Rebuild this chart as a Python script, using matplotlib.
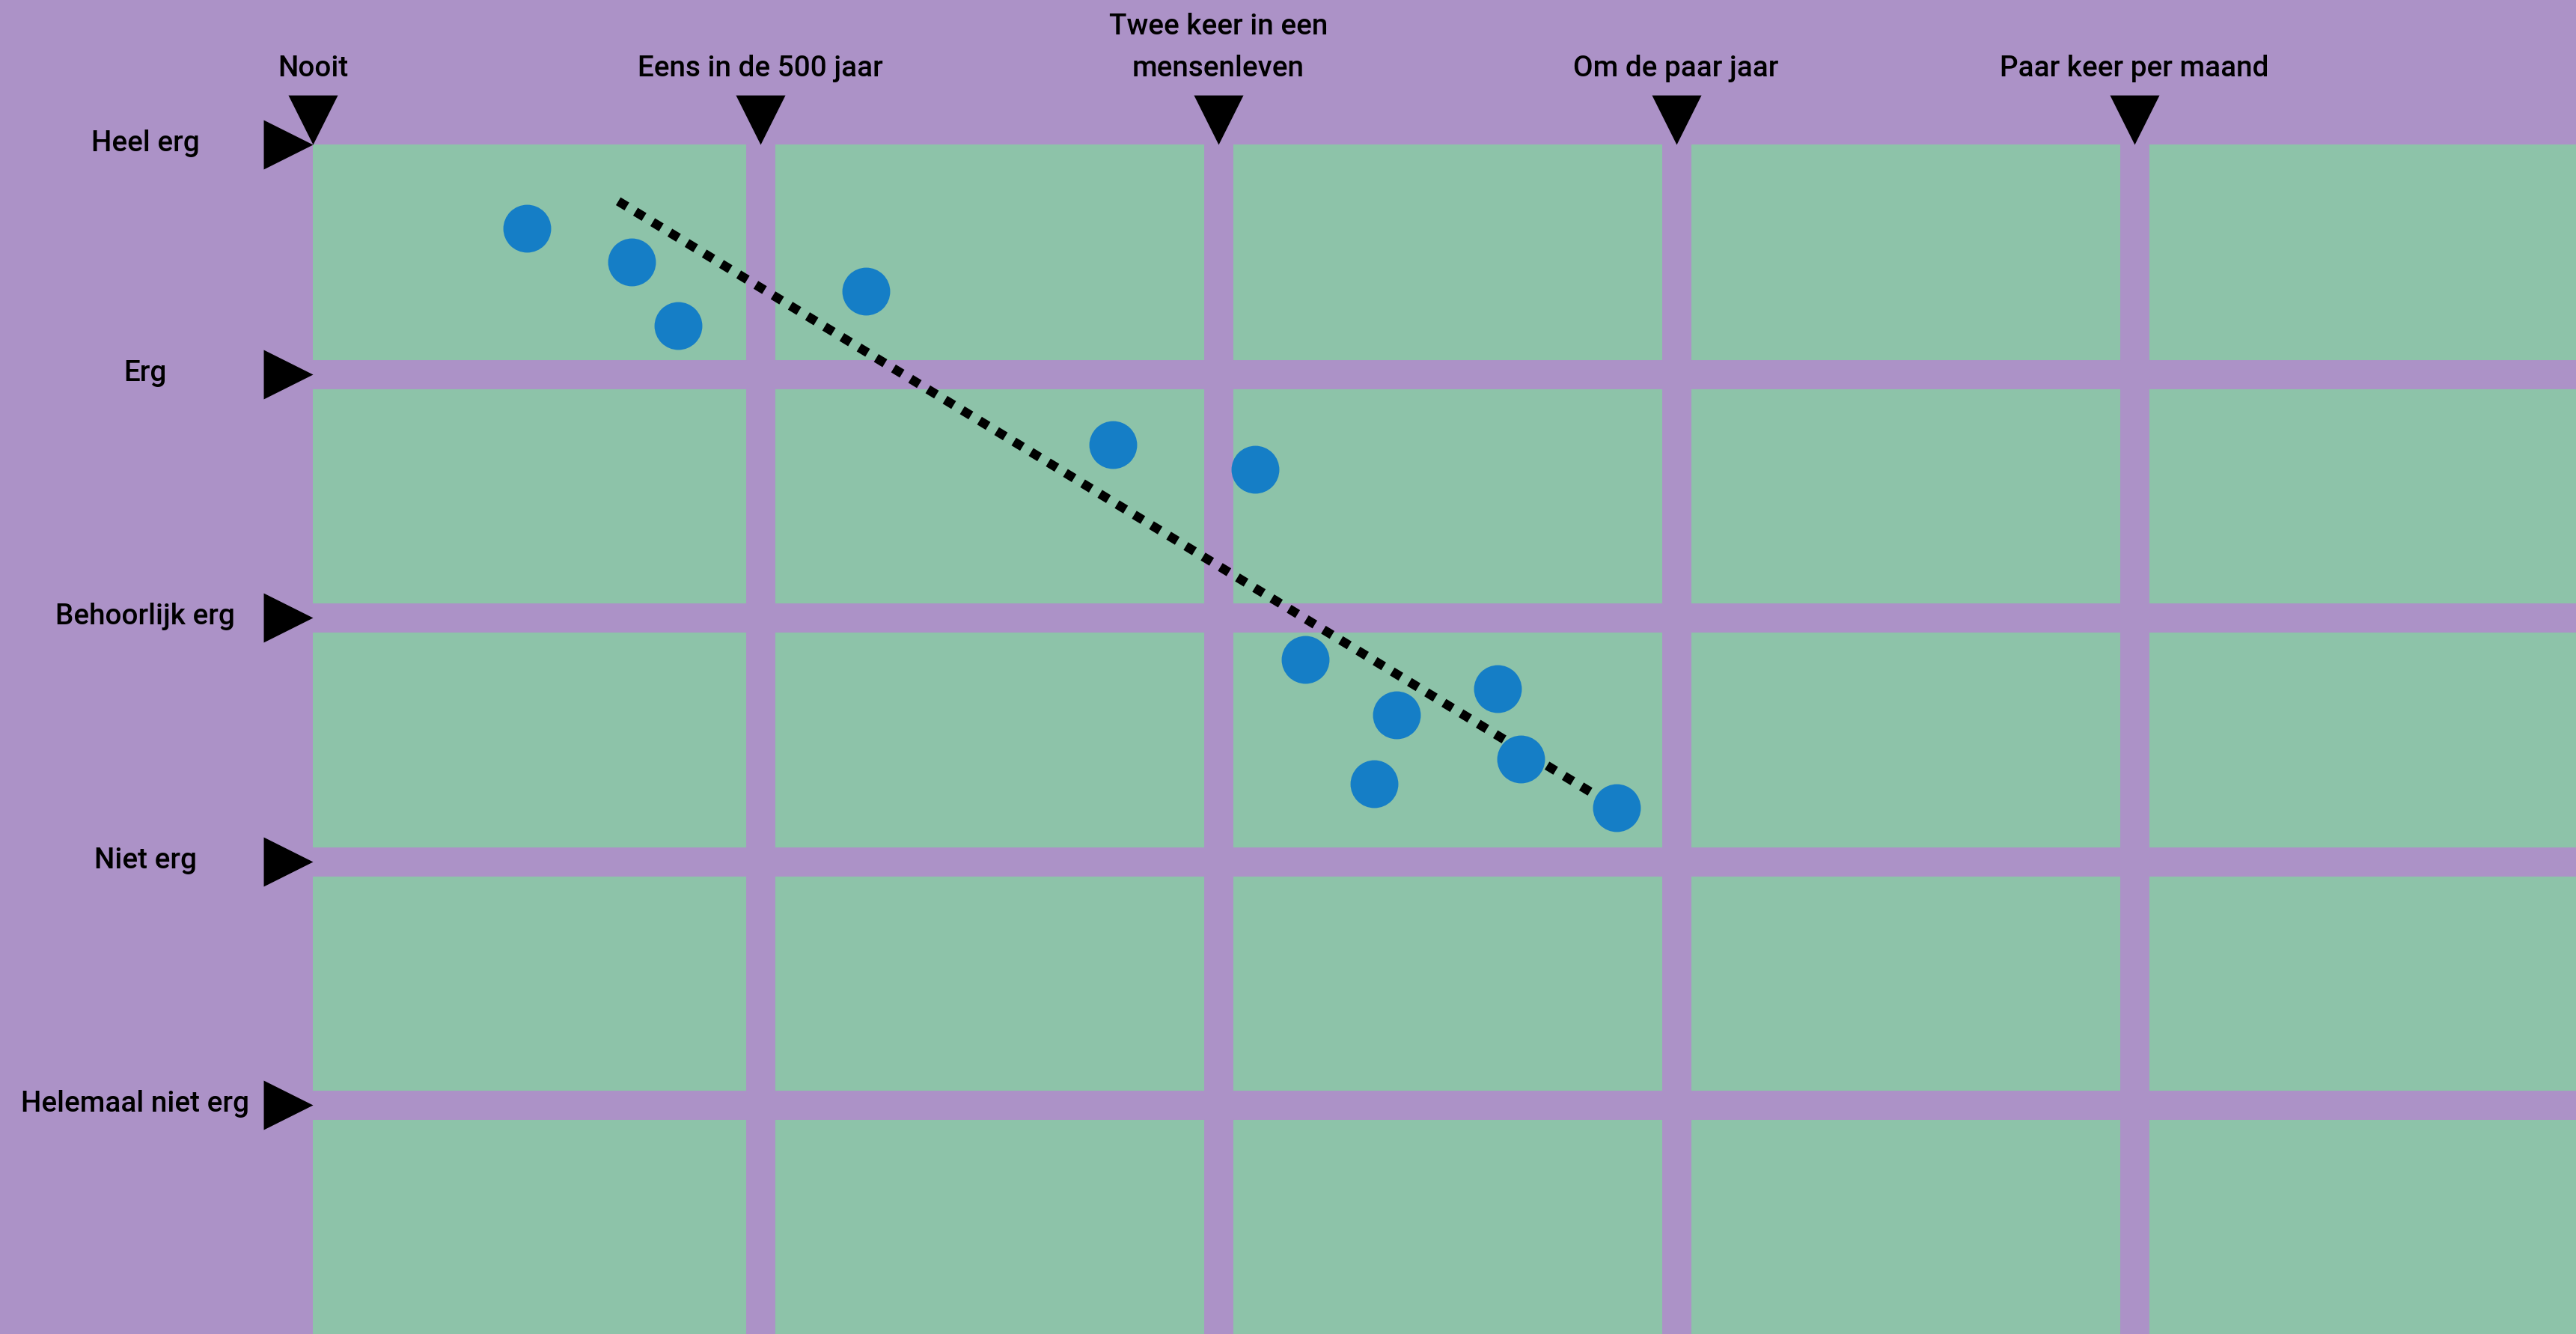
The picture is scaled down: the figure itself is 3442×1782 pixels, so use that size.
import numpy as np
import matplotlib
matplotlib.use("Agg")
import matplotlib.pyplot as plt
from matplotlib.path import Path
from matplotlib.transforms import ScaledTranslation

# Categories
x_labels = ["Nooit", "Eens in de 500 jaar", "Twee keer in een\nmensenleven",
            "Om de paar jaar", "Paar keer per maand"]
y_labels = ["Helemaal niet erg", "Niet erg", "Behoorlijk erg", "Erg", "Heel erg"]

# Observations (frequency score, severity score)
obs_x = [0.49, 0.72, 0.82, 1.23, 1.77, 2.08, 2.19, 2.39, 2.61, 2.34, 2.66, 2.87]
obs_y = [3.60, 3.46, 3.20, 3.34, 2.71, 2.61, 1.83, 1.60, 1.71, 1.32, 1.42, 1.22]

# Trend line end points
trend_x = [0.69, 2.87]
trend_y = [3.71, 1.22]

purple = "#AC92C7"
green = "#8DC3A9"
blue = "#157EC6"

plt.rcParams["font.family"] = ["Roboto", "DejaVu Sans"]

W, H, DPI = 3442, 1782, 200
fig = plt.figure(figsize=(W / DPI, H / DPI), dpi=DPI, facecolor=purple)
left_px, top_px = 418, 193
ax = fig.add_axes([left_px / W, 0, 1 - left_px / W, 1 - top_px / H])
ax.set_facecolor(green)
for s in ax.spines.values():
    s.set_visible(False)

xpos = np.arange(len(x_labels))
ypos = np.arange(len(y_labels))
xlim = (0.023, 4.965)
ylim = (-0.94, 3.943)
ax.set_xlim(*xlim)
ax.set_ylim(*ylim)
# the outermost categories sit on the edge of the plot area
xt = np.clip(xpos, *xlim)
yt = np.clip(ypos, *ylim)

# thick purple grid bands (not on the outer edges)
for x in xpos[1:]:
    ax.axvline(x, color=purple, lw=14, zorder=1)
for y in ypos[:-1]:
    ax.axhline(y, color=purple, lw=14, zorder=1)

# tick labels
ax.xaxis.tick_top()
ax.set_xticks(xt, x_labels)
ax.set_yticks(yt, y_labels)
ax.tick_params(axis="x", length=0, pad=30, labelsize=13.9)
ax.tick_params(axis="y", length=0, pad=80.6, labelsize=13.9)
for t in ax.get_xticklabels():
    t.set_fontweight("medium")
    t.set_linespacing(1.65)
for i, t in enumerate(ax.get_yticklabels()):
    t.set_fontweight("medium")
    t.set_horizontalalignment("center")
    dx = -5 if i == 0 else 0
    t.set_transform(t.get_transform() + ScaledTranslation(dx / 72, 2 / 72, fig.dpi_scale_trans))

# triangle tick markers, tip on the axes edge
down_tri = Path([(0, 0), (-0.5, 1), (0.5, 1), (0, 0)], closed=True)
right_tri = Path([(0, 0), (-1, 0.5), (-1, -0.5), (0, 0)], closed=True)
ax.plot(xt, np.ones(len(xt)), ls="none", marker=down_tri, ms=47.5,
        color="black", mew=0, transform=ax.get_xaxis_transform(), clip_on=False)
ax.plot(np.zeros(len(yt)), yt, ls="none", marker=right_tri, ms=47.5,
        color="black", mew=0, transform=ax.get_yaxis_transform(), clip_on=False)

# trend line and points
ax.plot(trend_x, trend_y, color="black", lw=4.4, dashes=(1.1, 1.1),
        dash_capstyle="butt", zorder=2)
ax.plot(obs_x, obs_y, ls="none", marker="o", ms=23, color=blue, mew=0, zorder=3)

fig.savefig("out.png", dpi=DPI, facecolor=purple)
